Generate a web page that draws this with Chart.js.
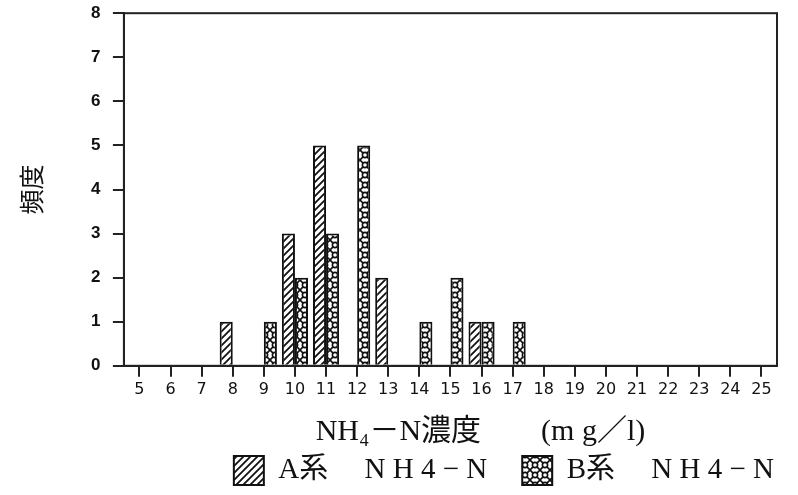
<!DOCTYPE html>
<html>
<head>
<meta charset="utf-8">
<script src="https://cdn.jsdelivr.net/npm/chart.js@4/dist/chart.umd.min.js"></script>
<style>
  html, body { margin: 0; padding: 0; background: #fff; }
  #wrap { width: 798px; height: 495px; }
</style>
</head>
<body>
<div id="wrap"><canvas id="chart" width="798" height="495"></canvas></div>
<script>
// concentration classes (mg/l)
const categories = ['5', '6', '7', '8', '9', '10', '11', '12', '13', '14', '15', '16', '17', '18', '19', '20', '21', '22', '23', '24', '25'];
// frequencies
const seriesA = [null, null, null, 1, null, 3, 5, null, 2, null, null, 1, null, null, null, null, null, null, null, null, null];
const seriesB = [null, null, null, null, 1, 2, 3, 5, null, 1, 2, 1, 1, null, null, null, null, null, null, null, null];
const yTicks = [0, 1, 2, 3, 4, 5, 6, 7, 8];
// trailing ideographic space on the first name opens the gap between the two legend items
const seriesNames = ['A系　 N H 4 − N　', 'B系　 N H 4 − N'];

const serif = '"Liberation Serif", "Noto Sans CJK JP", serif';

function hatchPattern() {
    const c = document.createElement('canvas');
    c.width = 7; c.height = 7;
    const g = c.getContext('2d');
    g.fillStyle = '#fff';
    g.fillRect(0, 0, 7, 7);
    g.strokeStyle = '#111';
    g.lineWidth = 1.8;
    g.beginPath();
    g.moveTo(-2, 9); g.lineTo(9, -2);
    g.moveTo(-2, 2); g.lineTo(2, -2);
    g.moveTo(5, 9); g.lineTo(9, 5);
    g.stroke();
    return g.createPattern(c, 'repeat');
}

function chainPattern() {
    const c = document.createElement('canvas');
    c.width = 10; c.height = 10;
    const g = c.getContext('2d');
    g.fillStyle = '#fff';
    g.fillRect(0, 0, 10, 10);
    g.strokeStyle = '#111';
    g.lineWidth = 1.6;
    g.beginPath();
    g.moveTo(0, 0); g.lineTo(10, 10);
    g.moveTo(10, 0); g.lineTo(0, 10);
    g.stroke();
    g.fillStyle = '#fff';
    g.beginPath();
    g.arc(5, 5, 2.6, 0, Math.PI * 2);
    g.fill();
    g.stroke();
    return g.createPattern(c, 'repeat');
}

const frame = {
    id: 'frame',
    afterDraw: function (chart) {
        const a = chart.chartArea;
        const ctx = chart.ctx;
        ctx.save();
        ctx.strokeStyle = '#222';
        ctx.lineWidth = 2;
        ctx.strokeRect(a.left, a.top, a.right - a.left, a.bottom - a.top);
        ctx.restore();
    }
};

new Chart(document.getElementById('chart'), {
    type: 'bar',
    data: {
        labels: categories,
        datasets: [
            {
                label: seriesNames[0],
                data: seriesA,
                backgroundColor: hatchPattern(),
                borderColor: '#111',
                borderWidth: 2
            },
            {
                label: seriesNames[1],
                data: seriesB,
                backgroundColor: chainPattern(),
                borderColor: '#111',
                borderWidth: 2
            }
        ]
    },
    options: {
        responsive: false,
        animation: false,
        layout: { padding: { top: 0, right: 18, left: 16, bottom: 0 } },
        datasets: { bar: { categoryPercentage: 0.84, barPercentage: 1.0 } },
        plugins: {
            tooltip: { enabled: false },
            legend: {
                position: 'bottom',
                align: 'end',
                labels: {
                    color: '#111',
                    font: { family: serif, size: 29 },
                    boxWidth: 30,
                    boxHeight: 29,
                    padding: 6
                }
            }
        },
        scales: {
            x: {
                offset: true,
                grid: { offset: false, drawOnChartArea: false, tickLength: 11, color: '#222', lineWidth: 2 },
                border: { color: '#222', width: 2 },
                ticks: { color: '#111', font: { family: '"DejaVu Sans", sans-serif', size: 16 }, maxRotation: 0, autoSkip: false, padding: 3 },
                title: {
                    display: true,
                    text: '　　NH₄－N濃度　　(m g／l)',
                    color: '#111',
                    font: { family: serif, size: 30 },
                    padding: { top: 12, bottom: 0 }
                }
            },
            y: {
                min: 0,
                max: 8,
                afterBuildTicks: function (axis) {
                    axis.ticks = yTicks.map(v => ({ value: v }));
                },
                grid: { drawOnChartArea: false, tickLength: 11, color: '#222', lineWidth: 2 },
                border: { color: '#222', width: 2 },
                ticks: {
                    color: '#111',
                    font: { family: '"Liberation Sans", sans-serif', size: 17, weight: 'bold' },
                    padding: 3,
                    callback: function (value) {
                        return value + '  ';
                    }
                },
                title: {
                    display: true,
                    text: '頻度',
                    color: '#111',
                    font: { family: '"Noto Sans CJK JP", sans-serif', size: 25 },
                    padding: { top: 0, bottom: 42 }
                }
            },
            // empty right axis: keeps the plot edge in place while the legend sits further right
            y2: {
                position: 'right',
                display: true,
                grid: { display: false },
                border: { display: false },
                ticks: { display: false },
                afterFit: function (axis) {
                    axis.width = 3;
                }
            }
        }
    },
    plugins: [frame]
});
</script>
</body>
</html>
